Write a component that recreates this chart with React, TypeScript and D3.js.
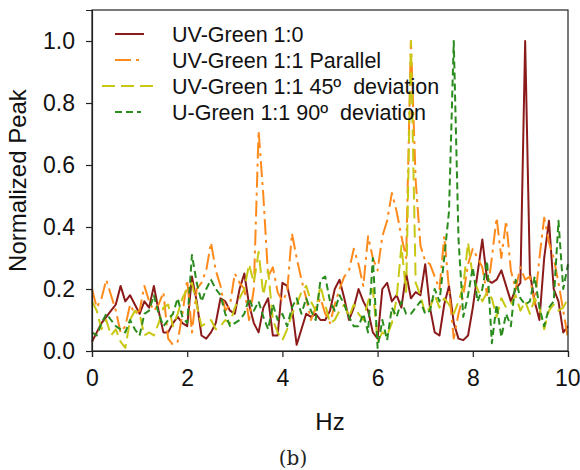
import { useEffect, useRef } from 'react'
import * as d3 from 'd3'

// frequency grid, 0.1 Hz steps
const hz = d3.range(101).map(i => i / 10)

const uvGreen10 = [
  0.03, 0.06, 0.09, 0.11, 0.13, 0.15, 0.21, 0.16, 0.18, 0.15,
  0.12, 0.16, 0.14, 0.21, 0.13, 0.06, 0.06, 0.09, 0.11, 0.09,
  0.08, 0.24, 0.16, 0.05, 0.04, 0.06, 0.09, 0.17, 0.16, 0.13,
  0.12, 0.2, 0.25, 0.15, 0.09, 0.06, 0.14, 0.17, 0.05, 0.05,
  0.22, 0.21, 0.14, 0.02, 0.07, 0.12, 0.11, 0.12, 0.1, 0.1,
  0.13, 0.2, 0.23, 0.17, 0.1, 0.14, 0.2, 0.16, 0.13, 0.06,
  0.04, 0.2, 0.22, 0.16, 0.18, 0.14, 0.25, 0.17, 0.19, 0.18,
  0.28, 0.14, 0.06, 0.05, 0.15, 0.21, 0.09, 0.04, 0.035, 0.05,
  0.14, 0.25, 0.36, 0.23, 0.22, 0.23, 0.26, 0.21, 0.16, 0.2,
  0.22, 1.0, 0.25, 0.16, 0.1, 0.3, 0.42, 0.2, 0.16, 0.06,
  0.08,
]

const uvGreenParallel = [
  0.2, 0.14, 0.17, 0.23, 0.18, 0.13, 0.06, 0.08, 0.15, 0.12,
  0.13, 0.21, 0.16, 0.13, 0.15, 0.19, 0.04, 0.02, 0.03, 0.12,
  0.23, 0.06, 0.2, 0.22, 0.26, 0.35, 0.26, 0.21, 0.13, 0.15,
  0.25, 0.22, 0.2, 0.1, 0.2, 0.71, 0.5, 0.24, 0.27, 0.19,
  0.16, 0.19, 0.38, 0.3, 0.23, 0.17, 0.1, 0.14, 0.17, 0.12,
  0.09, 0.15, 0.2, 0.24, 0.26, 0.33, 0.28, 0.21, 0.37, 0.3,
  0.26, 0.37, 0.42, 0.51, 0.45, 0.37, 0.3, 1.0, 0.55, 0.34,
  0.29, 0.28, 0.24, 0.2, 0.37, 0.2, 0.04, 0.12, 0.18, 0.28,
  0.33, 0.3, 0.27, 0.18, 0.3, 0.43, 0.3, 0.42, 0.26, 0.2,
  0.27, 0.23, 0.24, 0.15, 0.3, 0.43, 0.35, 0.3, 0.22, 0.13,
  0.04,
]

const uvGreen45 = [
  0.16, 0.13, 0.07, 0.1, 0.05, 0.07, 0.03, 0.01, 0.1, 0.13,
  0.12, 0.05, 0.06, 0.05, 0.09, 0.14, 0.15, 0.08, 0.12, 0.17,
  0.2, 0.22, 0.15, 0.08, 0.09, 0.1, 0.07, 0.08, 0.1, 0.09,
  0.14, 0.17, 0.2, 0.28, 0.22, 0.32, 0.18, 0.26, 0.1, 0.06,
  0.035, 0.07, 0.12, 0.15, 0.19, 0.21, 0.16, 0.13, 0.21, 0.15,
  0.09, 0.1, 0.13, 0.15, 0.11, 0.15, 0.12, 0.1, 0.16, 0.2,
  0.03, 0.06, 0.05, 0.09, 0.17, 0.34, 0.19, 1.0, 0.22, 0.18,
  0.12, 0.14, 0.18, 0.14, 0.17, 0.15, 0.12, 0.16, 0.21, 0.35,
  0.24, 0.2, 0.16, 0.19, 0.17, 0.11, 0.17, 0.14, 0.15, 0.18,
  0.13, 0.16, 0.12, 0.17, 0.14, 0.07, 0.13, 0.15, 0.13, 0.14,
  0.17,
]

const uGreen90 = [
  0.06, 0.05, 0.09, 0.12, 0.1, 0.08, 0.07, 0.06, 0.1, 0.07,
  0.05, 0.12, 0.13, 0.18, 0.12, 0.08, 0.1, 0.12, 0.17, 0.11,
  0.09, 0.31, 0.22, 0.16, 0.2, 0.23, 0.2, 0.18, 0.12, 0.08,
  0.09, 0.1, 0.12, 0.17, 0.13, 0.16, 0.11, 0.07, 0.15, 0.1,
  0.12, 0.08, 0.14, 0.17, 0.12, 0.17, 0.13, 0.1, 0.23, 0.24,
  0.16, 0.13, 0.18, 0.15, 0.11, 0.08, 0.08, 0.12, 0.06, 0.3,
  0.01, 0.1, 0.035, 0.14, 0.11, 0.16, 0.12, 0.12, 0.14, 0.16,
  0.12, 0.13, 0.2, 0.16, 0.3, 0.45, 1.0, 0.36, 0.11, 0.18,
  0.27, 0.16, 0.2, 0.29, 0.025, 0.15, 0.045, 0.12, 0.08, 0.23,
  0.17, 0.15, 0.16, 0.24, 0.14, 0.08, 0.14, 0.16, 0.42, 0.2,
  0.28,
]

const seriesLabels = [
  'UV-Green 1:0',
  'UV-Green 1:1 Parallel',
  'UV-Green 1:1 45º  deviation',
  'U-Green 1:1 90º  deviation',
]
const xTicks = [0, 2, 4, 6, 8, 10]
const yTicks = [0, 0.2, 0.4, 0.6, 0.8, 1.0]

const FONT = '"Liberation Sans", Arial, sans-serif'

export default function App() {
  const svgRef = useRef<SVGSVGElement>(null)

  useEffect(() => {
    if (!svgRef.current) return
    const width = 580
    const height = 470
    const margin = { top: 10, right: 12, bottom: 119, left: 92 }

    const svg = d3.select(svgRef.current)
    svg.selectAll('*').remove()
    svg.attr('width', width).attr('height', height)

    const x = d3.scaleLinear().domain([0, 10]).range([margin.left, width - margin.right])
    const y = d3.scaleLinear().domain([0, 1.1]).range([height - margin.bottom, margin.top])

    const styles = [
      { color: '#8b1a1a', dash: null },
      { color: '#ff8a1c', dash: '16,5,3,5' },
      { color: '#c8c814', dash: '13,6' },
      { color: '#2b8c1e', dash: '7,4' },
    ]
    const allSeries = [uvGreen10, uvGreenParallel, uvGreen45, uGreen90]

    const line = d3
      .line<number>()
      .x((_, i) => x(hz[i]))
      .y(d => y(d))

    allSeries.forEach((vals, k) => {
      svg
        .append('path')
        .datum(vals)
        .attr('fill', 'none')
        .attr('stroke', styles[k].color)
        .attr('stroke-width', 2)
        .attr('stroke-linejoin', 'round')
        .attr('stroke-dasharray', styles[k].dash)
        .attr('d', line)
    })

    // frame
    svg
      .append('rect')
      .attr('x', x(0))
      .attr('y', y(1.1))
      .attr('width', x(10) - x(0))
      .attr('height', y(0) - y(1.1))
      .attr('fill', 'none')
      .attr('stroke', '#222')
      .attr('stroke-width', 1.2)

    // axes
    const xAxis = svg
      .append('g')
      .attr('transform', `translate(0, ${y(0)})`)
      .call(d3.axisBottom(x).tickValues(xTicks).tickSize(6).tickPadding(13).tickFormat(d3.format('d')))
    const yAxis = svg
      .append('g')
      .attr('transform', `translate(${x(0)}, 0)`)
      .call(d3.axisLeft(y).tickValues(yTicks).tickSize(6).tickPadding(11).tickFormat(d3.format('.1f')))
    ;[xAxis, yAxis].forEach(g => {
      g.select('.domain').attr('stroke', '#222').attr('stroke-width', 1.2)
      g.selectAll('.tick line').attr('stroke', '#222').attr('stroke-width', 1.2)
      g.selectAll('.tick text')
        .attr('fill', '#111')
        .style('font-family', FONT)
        .style('font-size', '23px')
    })
    // keep the last x label inside the picture
    xAxis.selectAll('.tick text').filter(d => d === 10).attr('text-anchor', 'end').attr('dx', 12)

    // axis titles
    svg
      .append('text')
      .attr('x', x(5))
      .attr('y', 430)
      .attr('text-anchor', 'middle')
      .style('font-family', FONT)
      .style('font-size', '24px')
      .attr('fill', '#111')
      .text('Hz')

    svg
      .append('text')
      .attr('transform', `translate(26, ${y(0.55)}) rotate(-90)`)
      .attr('text-anchor', 'middle')
      .style('font-family', FONT)
      .style('font-size', '24px')
      .attr('fill', '#111')
      .text('Normalized Peak')

    // caption
    svg
      .append('text')
      .attr('x', 293)
      .attr('y', 465)
      .attr('text-anchor', 'middle')
      .style('font-family', '"DejaVu Serif", "Liberation Serif", serif')
      .style('font-size', '20px')
      .attr('fill', '#222')
      .text('(b)')

    // legend
    const legend = svg.append('g')
    const rowY = [34, 60, 86, 112]
    seriesLabels.forEach((label, k) => {
      const x1 = k === 2 ? 102 : 115
      const x2 = k === 2 ? 154 : k === 3 ? 141 : 144
      legend
        .append('line')
        .attr('x1', x1)
        .attr('x2', x2)
        .attr('y1', rowY[k])
        .attr('y2', rowY[k])
        .attr('stroke', styles[k].color)
        .attr('stroke-width', 2)
        .attr('stroke-dasharray', styles[k].dash)
      legend
        .append('text')
        .attr('x', 172)
        .attr('y', rowY[k] + 8)
        .style('font-family', FONT)
        .style('font-size', '21.5px')
        .style('white-space', 'pre')
        .attr('fill', '#111')
        .text(label)
    })
  }, [])

  return (
    <div style={{ position: 'absolute', left: 0, top: 0 }}>
      <svg ref={svgRef} style={{ display: 'block' }}></svg>
    </div>
  )
}
